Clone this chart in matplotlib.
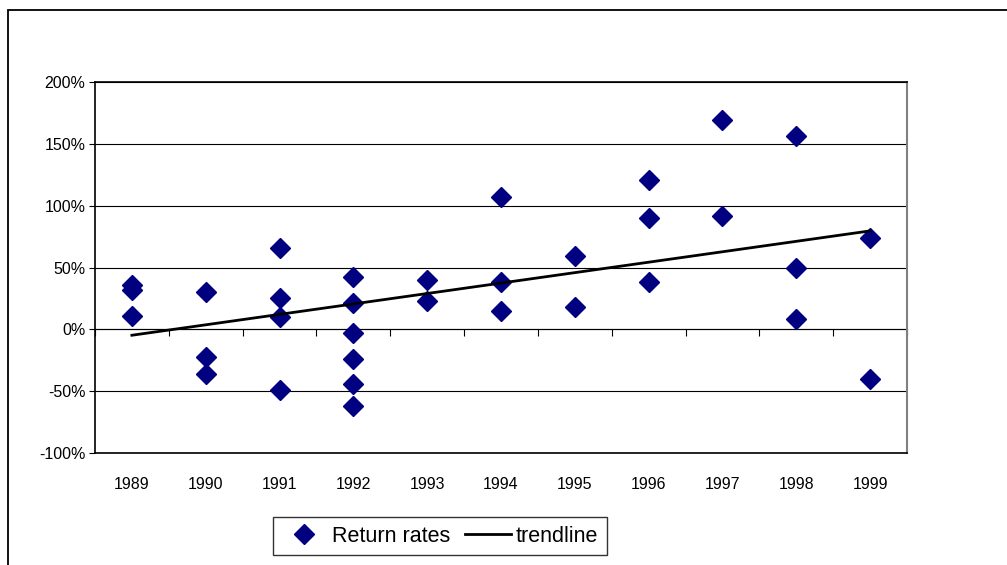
import numpy as np
import matplotlib
matplotlib.use("Agg")
import matplotlib.pyplot as plt
from matplotlib.patches import Rectangle

plt.rcParams['font.family'] = ['Liberation Sans', 'DejaVu Sans']

# yearly return rates (in %)
years = ['1989', '1990', '1991', '1992', '1993', '1994',
         '1995', '1996', '1997', '1998', '1999']
returns = [
    [36, 32, 11],
    [30, -22, -36],
    [66, 25, 10, -49],
    [42, 21, -3, -24, -44, -62],
    [40, 23],
    [107, 38, 15],
    [59, 18],
    [121, 90, 38],
    [169, 92],
    [156, 50, 8],
    [74, -40],
]
y_ticks = [-100, -50, 0, 50, 100, 150, 200]

# flatten to x/y pairs
xs, ys = [], []
for i, vals in enumerate(returns):
    for v in vals:
        xs.append(i)
        ys.append(v)
xs = np.array(xs)
ys = np.array(ys)

# linear trend over all points
slope, icpt = np.polyfit(xs, ys, 1)
tx = np.arange(len(years))
ty = slope * tx + icpt

W, H = 1007, 565
fig = plt.figure(figsize=(W / 100, H / 100), dpi=100)

# outer chart border
fig.patches.append(Rectangle((8 / W, -0.1), 1.2, (H - 10) / H + 0.1,
                             transform=fig.transFigure, fill=False,
                             edgecolor='black', linewidth=1.3))

ax = fig.add_axes([95 / W, (H - 453) / H, 812 / W, 371 / H])
ax.set_xlim(-0.5, len(years) - 0.5)
ax.set_ylim(-100, 200)

for v in y_ticks:
    ax.axhline(v, color='black', linewidth=0.8, zorder=1)

ax.plot(xs, ys, linestyle='none', marker='D', markersize=10,
        color='#000080', label='Return rates', zorder=3)
ax.plot(tx, ty, color='black', linewidth=2, label='trendline', zorder=4)

ax.set_yticks(y_ticks)
ax.set_yticklabels([f'{v}%' for v in y_ticks])
ax.set_xticks(tx)
ax.set_xticklabels(years)
ax.tick_params(axis='x', length=0, pad=17, labelsize=11.5)
ax.tick_params(axis='y', length=4, width=0.8, labelsize=11.5, pad=3)

for side in ['left', 'top', 'bottom']:
    ax.spines[side].set_color('black')
    ax.spines[side].set_linewidth(1.2)
ax.spines['right'].set_color('#808080')
ax.spines['right'].set_linewidth(1.5)

# category axis crossing at 0%
sec = ax.secondary_xaxis(1 / 3)
sec.set_xticks(np.arange(-0.5, len(years), 1.0))
sec.set_xticklabels([])
sec.tick_params(direction='out', length=5, width=0.8)
sec.spines['bottom'].set_linewidth(0.8)

leg = fig.legend(loc='center', bbox_to_anchor=(440 / W, 1 - 536 / H),
                 ncol=2, fontsize=15.5, frameon=True, fancybox=False,
                 handlelength=2.1, handletextpad=0.25, columnspacing=0.7,
                 borderpad=0.4, borderaxespad=0, edgecolor='black')
leg.get_frame().set_linewidth(1.0)

fig.savefig('out.png', dpi=100)
